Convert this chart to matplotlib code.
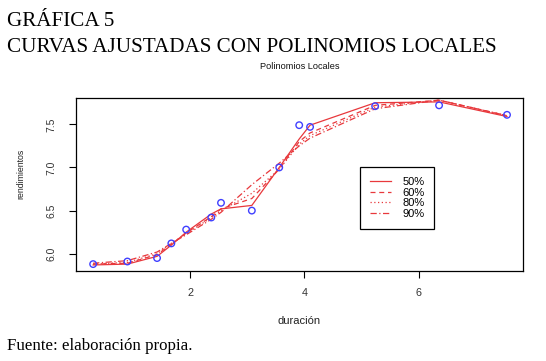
import matplotlib
matplotlib.use("Agg")
import matplotlib.pyplot as plt

# data
duracion = [0.30, 0.90, 1.42, 1.67, 1.93, 2.37, 2.54, 3.08, 3.56, 3.91, 4.10, 5.24, 6.36, 7.55]
rendimientos = [5.88, 5.91, 5.95, 6.12, 6.28, 6.42, 6.59, 6.50, 7.00, 7.49, 7.47, 7.71, 7.72, 7.61]

fit_50 = [5.87, 5.88, 5.97, 6.10, 6.25, 6.46, 6.52, 6.56, 7.00, 7.33, 7.49, 7.75, 7.76, 7.59]
fit_60 = [5.88, 5.89, 5.99, 6.11, 6.24, 6.43, 6.52, 6.64, 6.98, 7.30, 7.40, 7.72, 7.78, 7.60]
fit_80 = [5.88, 5.90, 6.00, 6.12, 6.23, 6.42, 6.50, 6.70, 6.98, 7.27, 7.37, 7.70, 7.78, 7.60]
fit_90 = [5.89, 5.92, 6.02, 6.12, 6.22, 6.40, 6.48, 6.80, 7.05, 7.25, 7.34, 7.68, 7.78, 7.60]
labels = ["50%", "60%", "80%", "90%"]

sans = "Liberation Sans"
serif = "Liberation Serif"

fig = plt.figure(figsize=(5.46, 3.61), dpi=100)
ax = fig.add_axes([76/546, 1-271/361, (523-76)/546, (271-98)/361])

red = "#e8383c"
styles = ["-", (0, (4, 3)), (0, (1, 2)), (0, (5, 2, 1, 2))]
for f, lab, ls in zip([fit_50, fit_60, fit_80, fit_90], labels, styles):
    ax.plot(duracion, f, color=red, lw=0.9, ls=ls, label=lab)
ax.scatter(duracion, rendimientos, s=22, facecolors="none", edgecolors="#4040ff", linewidths=1.0, zorder=3)

ax.set_xlim(0.0, 7.83)
ax.set_ylim(5.80, 7.805)
ax.set_xticks([2, 4, 6])
ax.set_xticklabels(["2", "4", "6"], family=sans)
ax.set_yticks([6.0, 6.5, 7.0, 7.5])
ax.set_yticklabels(["6.0", "6.5", "7.0", "7.5"], rotation=90, va="center", family=sans)
ax.tick_params(axis="x", labelsize=7.8, labelcolor="#333333", length=5, width=0.8, pad=7)
ax.tick_params(axis="y", labelsize=7.5, labelcolor="#333333", length=5, width=0.8, pad=9)
for s in ax.spines.values():
    s.set_linewidth(0.9)
ax.set_xlabel("duración", fontsize=8, color="#222222", labelpad=13, family=sans)
ax.set_ylabel("rendimientos", fontsize=6.3, color="#222222", family=sans)
ax.yaxis.set_label_coords((25-76)/447, 0.56)
ax.set_title("Polinomios Locales", fontsize=6.6, color="#111111", pad=21, family=sans)

leg = ax.legend(loc="upper left", bbox_to_anchor=((360-76)/447, (271-167)/173),
                frameon=True, fancybox=False, edgecolor="black", framealpha=1,
                handlelength=1.9, labelspacing=0.05, borderpad=0.9, handletextpad=1.0,
                borderaxespad=0, prop={"family": sans, "size": 8})
leg.get_frame().set_linewidth(0.9)

fig.text(7/546, 1-21.6/361, "GRÁFICA 5", family=serif, fontsize=15.2, va="center", ha="left")
fig.text(7/546, 1-47/361, "CURVAS AJUSTADAS CON POLINOMIOS LOCALES", family=serif, fontsize=15.2, va="center", ha="left")
fig.text(7/546, 1-346/361, "Fuente: elaboración propia.", family=serif, fontsize=12.2, va="center", ha="left")

fig.savefig("out.png", dpi=100)
